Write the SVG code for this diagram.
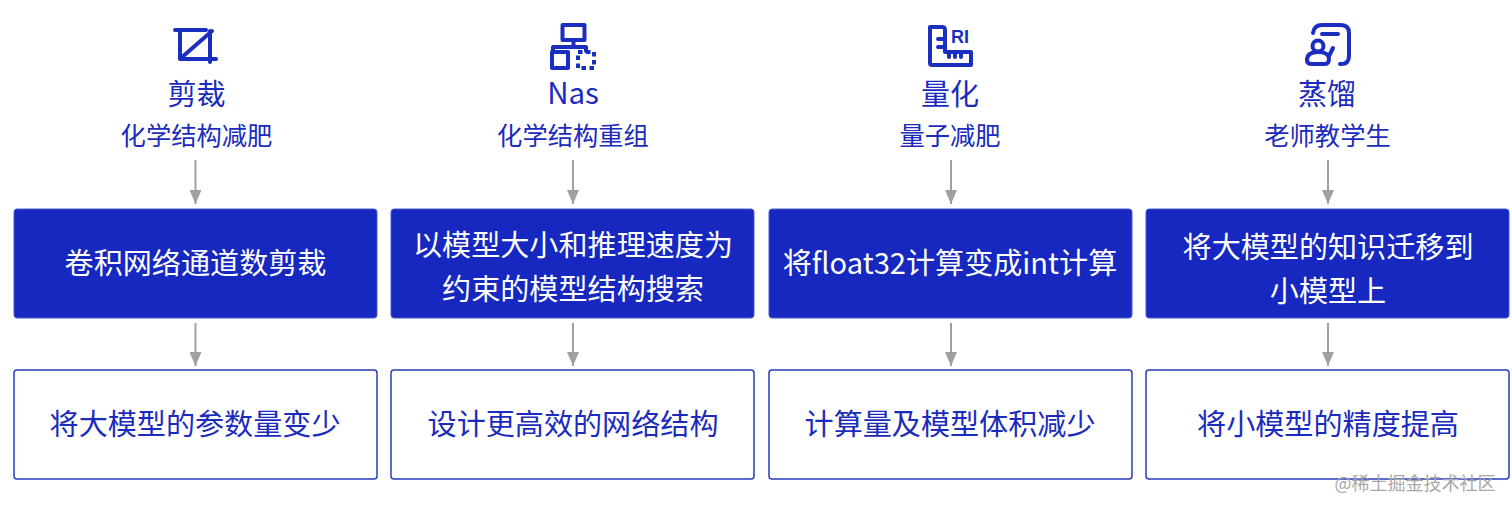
<svg xmlns="http://www.w3.org/2000/svg" width="1512" height="510" viewBox="0 0 1512 510">
<style>
text{font-family:"Noto Sans CJK SC","Noto Sans",sans-serif;text-anchor:middle}
.t1{font-size:29px;fill:#1a2bbd}
.t2{font-size:25.300px;fill:#1a2bbd}
.w{font-size:29.100px;fill:#fff}
.b{font-size:29.100px;fill:#1a2bbd}
.fill{fill:#1628c0;stroke:#4a5ad0;stroke-width:1}
.line{fill:#fff;stroke:#2a3bc0;stroke-width:1.5}
.ic{fill:none;stroke:#1a2fc0;stroke-width:4;stroke-linecap:round;stroke-linejoin:round}
.dash{fill:none;stroke:#1a2fc0;stroke-width:4;stroke-dasharray:4.500 3.500}
.c{stroke:#a0a0a0;stroke-width:2;fill:none;marker-end:url(#a)}
.wm{font-size:18px;fill:#a8a8a8}
</style>
<defs><marker id="a" markerUnits="userSpaceOnUse" markerWidth="14" markerHeight="12" refX="14" refY="6" orient="auto"><path d="M0 0L14 6L0 12z" fill="#a0a0a0"/></marker></defs>
<g id="connectors">
<path class="c" d="M195.500 160V204"/><path class="c" d="M195.500 323V366"/>
<path class="c" d="M573 160V204"/><path class="c" d="M573 323V366"/>
<path class="c" d="M951 160V204"/><path class="c" d="M951 323V366"/>
<path class="c" d="M1328 160V204"/><path class="c" d="M1328 323V366"/>
</g>
<g id="col1-head">
<path class="ic" d="M175 30H180V59H216M181 58L212 31M181 30H206M210 31V62"/>
<text class="t1" x="196.500" y="105">剪裁</text><text class="t2" x="196.500" y="145">化学结构减肥</text>
</g>
<g id="col2-head">
<rect class="ic" x="562.500" y="25" width="22" height="15"/><path class="ic" d="M573.500 41V47M553 51V47H586V51"/><rect class="ic" x="552" y="52" width="16" height="16"/>
<rect class="dash" x="578" y="52" width="16" height="16"/>
<text x="573" y="104" style="font-size:29.500px;fill:#1a2bbd">Nas</text><text class="t2" x="573" y="145">化学结构重组</text>
</g>
<g id="col3-head">
<path class="ic" d="M930 27H942Q945 27 945 30V52H971V65H932Q930 65 930 63ZM938 39H945M938 47H945M949 52V57M955 52V57M961 52V57"/>
<text x="960" y="43" style="font-size:18px;font-weight:700;fill:#1a2fc0;font-family:'Liberation Sans',sans-serif">RI</text>
<text class="t1" x="950" y="105">量化</text><text class="t2" x="950" y="145">量子减肥</text>
</g>
<g id="col4-head">
<path class="ic" d="M1313 33Q1314 25 1322 25H1341Q1349 25 1349 33V56Q1349 64 1341 64H1340M1322 34H1338"/>
<circle class="ic" cx="1318" cy="46" r="5.500"/><path class="ic" d="M1307 60Q1307 52 1318 52Q1328 52 1329 58Q1329 64 1325 64H1312Q1307 64 1307 60ZM1329 56L1333 48"/>
<text class="t1" x="1327" y="105">蒸馏</text><text class="t2" x="1327.500" y="145">老师教学生</text>
</g>
<g id="n1"><rect class="fill" x="14" y="209" width="363" height="109" rx="3"/><text class="w" x="195.500" y="274">卷积网络通道数剪裁</text></g>
<g id="n2"><rect class="fill" x="391" y="209" width="363" height="109" rx="3"/><text class="w" x="573" y="256">以模型大小和推理速度为</text><text class="w" x="573" y="300">约束的模型结构搜索</text></g>
<g id="n3"><rect class="fill" x="769" y="209" width="363" height="109" rx="3"/><text class="w" x="950" y="274">将float32计算变成int计算</text></g>
<g id="n4"><rect class="fill" x="1146" y="209" width="363" height="109" rx="3"/><text class="w" x="1328" y="258">将大模型的知识迁移到</text><text class="w" x="1328" y="302">小模型上</text></g>
<g id="m1"><rect class="line" x="14" y="370" width="363" height="109" rx="3"/><text class="b" x="195" y="435">将大模型的参数量变少</text></g>
<g id="m2"><rect class="line" x="391" y="370" width="363" height="109" rx="3"/><text class="b" x="573" y="435">设计更高效的网络结构</text></g>
<g id="m3"><rect class="line" x="769" y="370" width="363" height="109" rx="3"/><text class="b" x="950" y="435">计算量及模型体积减少</text></g>
<g id="m4"><rect class="line" x="1146" y="370" width="363" height="109" rx="3"/><text class="b" x="1328" y="435">将小模型的精度提高</text></g>
<text class="wm" x="1415" y="490">@稀土掘金技术社区</text>
</svg>
